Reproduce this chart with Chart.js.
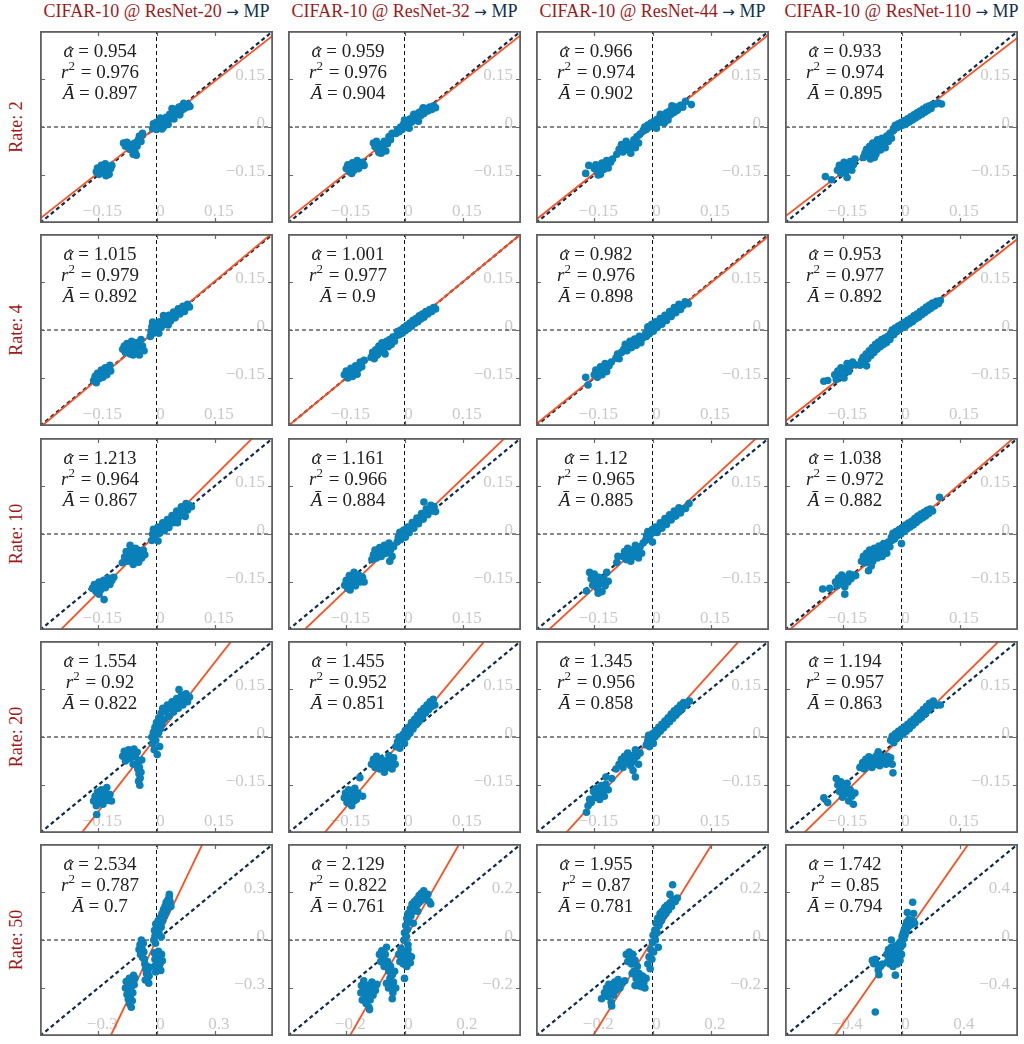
<!DOCTYPE html>
<html>
<head>
<meta charset="utf-8">
<script src="https://cdn.jsdelivr.net/npm/chart.js@4"></script>
<style>
  body { margin: 0; background: #fff; }
  #wrap { position: relative; width: 1024px; height: 1044px; background: #fff; overflow: hidden; }
  canvas { position: absolute; }
  .title { position: absolute; top: 0; width: 260px; text-align: center; font: 18px "Liberation Serif", serif; color: rgb(160,25,25); white-space: nowrap; line-height: 22px; }
  .title span { color: rgb(18,48,82); }
  .title b { font: 15px "DejaVu Sans", sans-serif; font-weight: normal; color: rgb(18,48,82); }
  .rate { position: absolute; left: 16px; width: 0; height: 0; }
  .rate div { position: absolute; transform: translate(-50%, -50%) rotate(-90deg); font: 18px "Liberation Serif", serif; color: rgb(160,25,25); white-space: nowrap; }
</style>
</head>
<body>
<div id="wrap"></div>
<script>
// rows = compression rate, columns = model
var rates = [2, 4, 10, 20, 50];
var models = ["ResNet-20", "ResNet-32", "ResNet-44", "ResNet-110"];

var alphaHat = [
  [0.954, 0.959, 0.966, 0.933],
  [1.015, 1.001, 0.982, 0.953],
  [1.213, 1.161, 1.12, 1.038],
  [1.554, 1.455, 1.345, 1.194],
  [2.534, 2.129, 1.955, 1.742]
];
var rSquared = [
  [0.976, 0.976, 0.974, 0.974],
  [0.979, 0.977, 0.976, 0.977],
  [0.964, 0.966, 0.965, 0.972],
  [0.92, 0.952, 0.956, 0.957],
  [0.787, 0.822, 0.87, 0.85]
];
var aBar = [
  [0.897, 0.904, 0.902, 0.895],
  [0.892, 0.9, 0.898, 0.892],
  [0.867, 0.884, 0.885, 0.882],
  [0.822, 0.851, 0.858, 0.863],
  [0.7, 0.761, 0.781, 0.794]
];

// axis limits and tick labels
var axisMax = [
  [0.3, 0.3, 0.3, 0.3],
  [0.3, 0.3, 0.3, 0.3],
  [0.3, 0.3, 0.3, 0.3],
  [0.3, 0.3, 0.3, 0.3],
  [0.6, 0.4, 0.4, 0.8]
];
var tickStd = [-0.15, 0, 0.15];
var tickRate50 = [[-0.3, 0, 0.3], [-0.2, 0, 0.2], [-0.2, 0, 0.2], [-0.4, 0, 0.4]];

// scatter points [x, y]
var r2_res20 = [[-0.155,-0.14],[-0.152,-0.128],[-0.148,-0.148],[-0.145,-0.135],[-0.142,-0.12],[-0.138,-0.142],[-0.135,-0.13],[-0.132,-0.115],[-0.128,-0.138],[-0.125,-0.125],[-0.122,-0.148],[-0.118,-0.13],[-0.115,-0.12],[-0.13,-0.152],
  [-0.085,-0.05],[-0.08,-0.06],[-0.076,-0.048],[-0.072,-0.058],[-0.068,-0.07],[-0.064,-0.055],[-0.06,-0.065],[-0.056,-0.05],[-0.055,-0.08],[-0.052,-0.088],[-0.05,-0.06],[-0.047,-0.04],[-0.044,-0.028],[-0.04,-0.045],[-0.036,-0.02],[-0.06,-0.085],
  [-0.01,-0.005],[-0.008,0.01],[-0.004,0.002],[0,0.015],[0.004,0.006],[0.008,0.02],[0.012,0.01],[0.016,0.024],[0.02,0.014],[0.025,0.03],[0.03,0.02],[0.034,0.04],[0.038,0.03],[0.042,0.05],[0.046,0.038],[0.05,0.055],[0.054,0.045],[0.058,0.062],[0.062,0.05],[0.066,0.066],[0.07,0.056],[0.074,0.07],[0.078,0.062],[0.082,0.07],[0.086,0.064],[0.03,0.008],[0.045,0.025],
  [0,-0.008],[0.01,0.028],[0.018,0.0],[0.04,0.058],[0.06,0.038],[0.07,0.074],[0.014,-0.006]];
var r2_res32 = [[-0.15,-0.13],[-0.146,-0.118],[-0.142,-0.14],[-0.138,-0.125],[-0.134,-0.112],[-0.13,-0.135],[-0.126,-0.12],[-0.122,-0.105],[-0.118,-0.13],[-0.114,-0.115],[-0.108,-0.11],[-0.104,-0.12],[-0.136,-0.145],
  [-0.08,-0.05],[-0.076,-0.062],[-0.072,-0.045],[-0.068,-0.07],[-0.064,-0.055],[-0.06,-0.082],[-0.056,-0.06],[-0.052,-0.045],[-0.048,-0.075],[-0.044,-0.052],[-0.04,-0.03],[-0.036,-0.04],[-0.032,-0.02],[-0.066,-0.08],
  [-0.022,-0.02],[-0.018,-0.008],[-0.014,-0.015],[-0.01,0],[-0.006,-0.008],[-0.002,0.01],[0.002,0],[0.006,0.018],[0.01,0.008],[0.014,0.025],[0.018,0.015],[0.022,0.032],[0.026,0.022],[0.03,0.04],[0.034,0.03],[0.038,0.046],[0.042,0.036],[0.046,0.052],[0.05,0.042],[0.055,0.058],[0.06,0.05],[0.065,0.062],[0.07,0.055],[0.075,0.066],[0.08,0.06],
  [0.0,0.022],[0.012,-0.004],[0.024,0.04],[0.036,0.018],[0.048,0.06]];
var r2_res44 = [[-0.172,-0.145],[-0.164,-0.12],[-0.15,-0.13],[-0.146,-0.118],[-0.142,-0.14],[-0.138,-0.125],[-0.134,-0.148],[-0.13,-0.113],[-0.126,-0.133],[-0.122,-0.12],[-0.118,-0.105],[-0.114,-0.128],[-0.108,-0.11],[-0.103,-0.1],[-0.14,-0.15],
  [-0.092,-0.085],[-0.086,-0.07],[-0.08,-0.055],[-0.076,-0.078],[-0.072,-0.062],[-0.068,-0.045],[-0.064,-0.07],[-0.06,-0.055],[-0.056,-0.082],[-0.052,-0.06],[-0.048,-0.04],[-0.044,-0.065],[-0.04,-0.03],[-0.036,-0.05],[-0.032,-0.022],
  [-0.024,-0.01],[-0.02,0],[-0.016,-0.008],[-0.012,0.006],[-0.008,0],[-0.004,0.012],[0,0.004],[0.004,0.018],[0.008,0.008],[0.012,0.024],[0.016,0.014],[0.02,0.03],[0.024,0.02],[0.028,0.036],[0.032,0.026],[0.036,0.044],[0.04,0.032],[0.044,0.05],[0.048,0.04],[0.052,0.056],[0.056,0.046],[0.06,0.062],[0.064,0.052],[0.068,0.06],[0.072,0.068],[0.078,0.062],[0.085,0.08],[0.1,0.07],[0.03,0.012],
  [0.01,-0.004],[0.02,0.04],[0.04,0.022],[0.05,0.066]];
var r2_res110 = [[-0.196,-0.155],[-0.18,-0.165],[-0.165,-0.135],[-0.16,-0.12],[-0.156,-0.145],[-0.152,-0.128],[-0.148,-0.11],[-0.144,-0.14],[-0.14,-0.158],[-0.136,-0.125],[-0.132,-0.108],[-0.128,-0.135],[-0.124,-0.118],[-0.12,-0.1],
  [-0.098,-0.095],[-0.094,-0.082],[-0.09,-0.07],[-0.086,-0.088],[-0.082,-0.06],[-0.078,-0.075],[-0.074,-0.05],[-0.07,-0.065],[-0.066,-0.085],[-0.062,-0.04],[-0.058,-0.058],[-0.054,-0.072],[-0.05,-0.035],[-0.046,-0.05],[-0.042,-0.065],[-0.038,-0.028],[-0.034,-0.045],[-0.03,-0.02],[-0.026,-0.035],[-0.022,-0.012],[-0.07,-0.095],[-0.08,-0.1],
  [-0.02,-0.005],[-0.016,0.005],[-0.012,-0.002],[-0.008,0.01],[-0.004,0.002],[0,0.015],[0.004,0.006],[0.008,0.02],[0.012,0.01],[0.016,0.026],[0.02,0.016],[0.024,0.032],[0.028,0.022],[0.032,0.038],[0.036,0.028],[0.04,0.044],[0.044,0.034],[0.048,0.05],[0.052,0.04],[0.056,0.056],[0.06,0.046],[0.064,0.062],[0.068,0.052],[0.072,0.066],[0.076,0.058],[0.08,0.07],[0.088,0.072],[0.095,0.075],[0.103,0.072]];

var r4_res20 = [[-0.162,-0.158],[-0.158,-0.145],[-0.155,-0.165],[-0.152,-0.135],[-0.148,-0.152],[-0.145,-0.14],[-0.142,-0.125],[-0.138,-0.148],[-0.135,-0.132],[-0.132,-0.118],[-0.128,-0.14],[-0.125,-0.122],[-0.12,-0.11],[-0.118,-0.128],
  [-0.087,-0.06],[-0.083,-0.05],[-0.08,-0.07],[-0.076,-0.042],[-0.072,-0.06],[-0.068,-0.075],[-0.064,-0.035],[-0.06,-0.05],[-0.056,-0.068],[-0.052,-0.04],[-0.048,-0.058],[-0.044,-0.078],[-0.04,-0.03],[-0.036,-0.05],[-0.032,-0.065],[-0.06,-0.078],
  [-0.016,-0.02],[-0.014,-0.005],[-0.012,0.01],[-0.008,-0.01],[-0.006,0.005],[-0.002,0.02],[0,-0.002],[0.004,0.012],[0.008,0.026],[0.012,0.008],[0.016,0.022],[0.02,0.036],[0.024,0.018],[0.028,0.032],[0.032,0.046],[0.036,0.028],[0.04,0.042],[0.044,0.056],[0.048,0.038],[0.052,0.052],[0.056,0.066],[0.06,0.05],[0.064,0.062],[0.068,0.074],[0.072,0.058],[0.076,0.07],[0.08,0.08],[0.085,0.072],
  [-0.01,0.025],[0.006,-0.01],[0.018,0.045],[0.03,0.016]];
var r4_res32 = [[-0.155,-0.14],[-0.15,-0.128],[-0.146,-0.15],[-0.142,-0.135],[-0.138,-0.12],[-0.134,-0.145],[-0.13,-0.13],[-0.126,-0.112],[-0.122,-0.138],[-0.118,-0.12],[-0.114,-0.1],[-0.11,-0.115],[-0.104,-0.095],
  [-0.086,-0.085],[-0.082,-0.07],[-0.078,-0.09],[-0.074,-0.062],[-0.07,-0.078],[-0.066,-0.05],[-0.062,-0.068],[-0.058,-0.04],[-0.054,-0.06],[-0.05,-0.075],[-0.046,-0.035],[-0.042,-0.052],[-0.038,-0.03],[-0.034,-0.045],[-0.03,-0.022],[-0.026,-0.035],
  [-0.021,-0.018],[-0.018,-0.005],[-0.014,-0.015],[-0.01,0],[-0.006,-0.01],[-0.002,0.008],[0.002,-0.002],[0.006,0.015],[0.01,0.005],[0.014,0.022],[0.018,0.012],[0.022,0.03],[0.026,0.02],[0.03,0.036],[0.034,0.026],[0.038,0.044],[0.042,0.034],[0.046,0.05],[0.05,0.04],[0.055,0.058],[0.06,0.05],[0.065,0.064],[0.07,0.058],[0.075,0.07],[0.08,0.066]];
var r4_res44 = [[-0.172,-0.148],[-0.166,-0.172],[-0.15,-0.14],[-0.146,-0.125],[-0.142,-0.148],[-0.138,-0.132],[-0.134,-0.115],[-0.13,-0.14],[-0.126,-0.122],[-0.122,-0.105],[-0.118,-0.13],[-0.112,-0.112],[-0.106,-0.1],
  [-0.094,-0.088],[-0.09,-0.075],[-0.086,-0.09],[-0.08,-0.07],[-0.074,-0.06],[-0.07,-0.045],[-0.066,-0.065],[-0.062,-0.05],[-0.058,-0.035],[-0.054,-0.055],[-0.05,-0.04],[-0.046,-0.028],[-0.042,-0.048],[-0.038,-0.035],[-0.034,-0.02],[-0.03,-0.04],[-0.025,-0.025],[-0.018,-0.012],
  [-0.016,-0.02],[-0.014,-0.005],[-0.012,0.01],[-0.008,-0.012],[-0.005,0.003],[-0.002,0.018],[0.002,-0.004],[0.005,0.012],[0.008,0.026],[0.012,0.008],[0.016,0.022],[0.02,0.036],[0.024,0.018],[0.028,0.032],[0.032,0.046],[0.036,0.03],[0.04,0.044],[0.044,0.058],[0.048,0.042],[0.052,0.056],[0.056,0.07],[0.06,0.054],[0.064,0.068],[0.068,0.08],[0.072,0.064],[0.078,0.076],[0.084,0.088],[0.092,0.082]];
var r4_res110 = [[-0.2,-0.16],[-0.19,-0.158],[-0.172,-0.14],[-0.168,-0.155],[-0.164,-0.128],[-0.16,-0.145],[-0.156,-0.118],[-0.152,-0.135],[-0.148,-0.15],[-0.144,-0.12],[-0.14,-0.105],[-0.136,-0.13],[-0.132,-0.112],[-0.126,-0.1],[-0.12,-0.108],
  [-0.107,-0.11],[-0.103,-0.096],[-0.099,-0.085],[-0.095,-0.1],[-0.091,-0.075],[-0.087,-0.09],[-0.083,-0.065],[-0.079,-0.08],[-0.075,-0.055],[-0.071,-0.07],[-0.067,-0.045],[-0.063,-0.06],[-0.059,-0.038],[-0.055,-0.052],[-0.051,-0.03],[-0.047,-0.045],[-0.043,-0.025],[-0.039,-0.04],[-0.035,-0.02],[-0.03,-0.03],[-0.025,-0.015],[-0.09,-0.112],
  [-0.028,-0.01],[-0.024,0],[-0.02,-0.015],[-0.016,0.006],[-0.012,-0.005],[-0.008,0.012],[-0.004,0.002],[0,0.018],[0.004,0.008],[0.008,0.024],[0.012,0.014],[0.016,0.03],[0.02,0.02],[0.024,0.036],[0.028,0.026],[0.032,0.044],[0.036,0.034],[0.04,0.05],[0.044,0.04],[0.048,0.058],[0.052,0.048],[0.056,0.064],[0.06,0.055],[0.064,0.072],[0.068,0.062],[0.072,0.078],[0.076,0.068],[0.08,0.084],[0.085,0.075],[0.09,0.09],[0.095,0.082],[0.1,0.092]];

var r10_res20 = [[-0.165,-0.17],[-0.16,-0.158],[-0.156,-0.18],[-0.152,-0.165],[-0.148,-0.15],[-0.144,-0.175],[-0.14,-0.16],[-0.136,-0.145],[-0.132,-0.168],[-0.128,-0.152],[-0.124,-0.138],[-0.12,-0.158],[-0.115,-0.145],[-0.11,-0.135],[-0.135,-0.205],[-0.148,-0.188],
  [-0.088,-0.09],[-0.082,-0.072],[-0.078,-0.055],[-0.074,-0.085],[-0.07,-0.065],[-0.068,-0.035],[-0.066,-0.05],[-0.062,-0.078],[-0.058,-0.06],[-0.054,-0.045],[-0.05,-0.07],[-0.046,-0.088],[-0.042,-0.055],[-0.038,-0.075],[-0.034,-0.05],[-0.03,-0.065],[-0.06,-0.095],
  [-0.012,-0.02],[-0.01,0],[-0.008,0.015],[-0.004,-0.01],[0,0.008],[0.004,0.022],[0.004,-0.022],[0.008,0.002],[0.012,0.018],[0.016,0.035],[0.02,0.01],[0.024,0.028],[0.028,0.045],[0.032,0.02],[0.036,0.04],[0.04,0.058],[0.044,0.035],[0.048,0.055],[0.052,0.072],[0.056,0.05],[0.06,0.068],[0.064,0.085],[0.068,0.065],[0.072,0.08],[0.076,0.095],[0.08,0.075],[0.085,0.09],[0.09,0.085],[0.074,0.055],[0.054,0.035]];
var r10_res32 = [[-0.154,-0.16],[-0.15,-0.145],[-0.146,-0.17],[-0.142,-0.13],[-0.138,-0.155],[-0.134,-0.14],[-0.13,-0.12],[-0.126,-0.162],[-0.122,-0.145],[-0.118,-0.128],[-0.114,-0.15],[-0.108,-0.135],[-0.104,-0.15],[-0.14,-0.175],
  [-0.084,-0.08],[-0.08,-0.065],[-0.076,-0.05],[-0.072,-0.075],[-0.068,-0.06],[-0.064,-0.042],[-0.06,-0.07],[-0.056,-0.055],[-0.052,-0.035],[-0.048,-0.06],[-0.044,-0.045],[-0.04,-0.028],[-0.036,-0.05],[-0.032,-0.07],[-0.038,-0.085],[-0.028,-0.04],
  [-0.019,-0.025],[-0.016,-0.01],[-0.012,0.005],[-0.01,-0.018],[-0.006,-0.002],[-0.002,0.012],[0.002,-0.01],[0.004,0.006],[0.008,0.022],[0.012,0.004],[0.016,0.02],[0.02,0.036],[0.024,0.018],[0.028,0.034],[0.032,0.05],[0.036,0.032],[0.04,0.048],[0.044,0.064],[0.048,0.046],[0.052,0.062],[0.056,0.078],[0.06,0.06],[0.064,0.075],[0.068,0.09],[0.072,0.072],[0.076,0.086],[0.08,0.07],[0.05,0.1]];
var r10_res44 = [[-0.17,-0.178],[-0.162,-0.12],[-0.158,-0.14],[-0.154,-0.16],[-0.15,-0.125],[-0.146,-0.148],[-0.142,-0.17],[-0.138,-0.135],[-0.134,-0.155],[-0.13,-0.18],[-0.126,-0.14],[-0.122,-0.162],[-0.118,-0.12],[-0.114,-0.148],[-0.14,-0.185],[-0.089,-0.07],[-0.092,-0.089],
  [-0.076,-0.07],[-0.072,-0.055],[-0.068,-0.08],[-0.064,-0.045],[-0.06,-0.065],[-0.056,-0.085],[-0.052,-0.05],[-0.048,-0.07],[-0.044,-0.035],[-0.04,-0.055],[-0.036,-0.075],[-0.032,-0.04],[-0.028,-0.06],[-0.024,-0.028],
  [-0.018,-0.02],[-0.015,-0.005],[-0.012,0.008],[-0.008,-0.015],[-0.004,0],[0,0.015],[0,-0.025],[0.004,0.006],[0.008,0.022],[0.012,0.005],[0.016,0.02],[0.02,0.035],[0.024,0.018],[0.028,0.032],[0.032,0.048],[0.036,0.03],[0.04,0.045],[0.044,0.06],[0.048,0.044],[0.052,0.058],[0.056,0.072],[0.06,0.056],[0.064,0.07],[0.068,0.082],[0.072,0.066],[0.078,0.078],[0.085,0.08],[0.094,0.095]];
var r10_res110 = [[-0.203,-0.172],[-0.185,-0.17],[-0.146,-0.188],[-0.17,-0.15],[-0.166,-0.162],[-0.162,-0.138],[-0.158,-0.155],[-0.154,-0.128],[-0.15,-0.145],[-0.146,-0.165],[-0.142,-0.135],[-0.138,-0.15],[-0.134,-0.125],[-0.13,-0.14],[-0.124,-0.128],[-0.118,-0.13],
  [-0.103,-0.085],[-0.098,-0.07],[-0.094,-0.09],[-0.09,-0.06],[-0.086,-0.078],[-0.085,-0.115],[-0.078,-0.1],[-0.082,-0.05],[-0.078,-0.068],[-0.074,-0.085],[-0.07,-0.045],[-0.066,-0.06],[-0.062,-0.075],[-0.058,-0.038],[-0.054,-0.055],[-0.05,-0.07],[-0.046,-0.03],[-0.042,-0.045],[-0.038,-0.06],[-0.034,-0.025],[-0.03,-0.04],[-0.025,-0.02],[-0.018,-0.015],
  [-0.026,-0.01],[-0.022,0.002],[-0.018,-0.015],[-0.014,0.008],[-0.01,-0.005],[-0.006,0.014],[-0.002,0],[0.002,0.02],[0.006,0.008],[0.01,0.028],[0.014,0.016],[0.018,0.034],[0.022,0.022],[0.026,0.04],[0.03,0.028],[0.034,0.048],[0.038,0.036],[0.042,0.056],[0.046,0.044],[0.05,0.062],[0.054,0.05],[0.058,0.068],[0.062,0.056],[0.066,0.074],[0.07,0.064],[0.074,0.078],[0.08,0.072],[0.098,0.115],[0,-0.03]];

var r20_res20 = [[-0.162,-0.2],[-0.158,-0.185],[-0.155,-0.215],[-0.152,-0.172],[-0.148,-0.2],[-0.145,-0.185],[-0.142,-0.165],[-0.138,-0.21],[-0.135,-0.192],[-0.132,-0.175],[-0.128,-0.158],[-0.125,-0.198],[-0.12,-0.18],[-0.116,-0.2],[-0.154,-0.242],
  [-0.087,-0.06],[-0.083,-0.045],[-0.08,-0.075],[-0.076,-0.055],[-0.072,-0.04],[-0.068,-0.068],[-0.064,-0.05],[-0.06,-0.085],[-0.058,-0.038],[-0.054,-0.062],[-0.05,-0.048],[-0.05,-0.085],[-0.046,-0.075],[-0.048,-0.1],[-0.044,-0.095],[-0.045,-0.115],[-0.042,-0.128],[-0.04,-0.11],[-0.046,-0.138],[-0.043,-0.151],[-0.038,-0.072],
  [-0.012,0],[-0.01,-0.02],[-0.008,0.015],[-0.006,-0.04],[-0.004,0.03],[-0.002,-0.01],[0,0.045],[0.002,-0.055],[0.004,0.01],[0.006,0.06],[0.008,-0.03],[0.01,0.025],[0.012,0.075],[0.014,0.04],[0.016,0.09],[0.02,0.055],[0.024,0.08],[0.028,0.1],[0.032,0.065],[0.036,0.09],[0.04,0.11],[0.044,0.078],[0.048,0.1],[0.052,0.12],[0.056,0.09],[0.06,0.11],[0.064,0.13],[0.068,0.1],[0.072,0.12],[0.076,0.135],[0.08,0.11],[0.085,0.125],[0.058,0.148]];
var r20_res32 = [[-0.155,-0.19],[-0.152,-0.175],[-0.148,-0.205],[-0.144,-0.165],[-0.14,-0.19],[-0.136,-0.215],[-0.132,-0.178],[-0.128,-0.16],[-0.124,-0.195],[-0.12,-0.175],[-0.115,-0.127],[-0.108,-0.185],[-0.13,-0.2],
  [-0.085,-0.085],[-0.08,-0.07],[-0.076,-0.095],[-0.072,-0.06],[-0.068,-0.08],[-0.064,-0.1],[-0.06,-0.068],[-0.056,-0.088],[-0.052,-0.11],[-0.048,-0.075],[-0.044,-0.095],[-0.04,-0.058],[-0.036,-0.08],[-0.032,-0.1],[-0.028,-0.065],[-0.024,-0.085],
  [-0.022,-0.03],[-0.018,-0.015],[-0.014,0],[-0.012,-0.035],[-0.008,-0.012],[-0.004,0.008],[0,-0.02],[0.002,0.02],[0.006,0],[0.01,0.03],[0.014,0.012],[0.018,0.045],[0.022,0.025],[0.026,0.055],[0.03,0.038],[0.034,0.068],[0.038,0.05],[0.042,0.08],[0.046,0.062],[0.05,0.09],[0.054,0.075],[0.058,0.1],[0.062,0.085],[0.066,0.11],[0.07,0.095],[0.074,0.118],[0.078,0.1]];
var r20_res44 = [[-0.17,-0.235],[-0.166,-0.215],[-0.162,-0.195],[-0.158,-0.205],[-0.152,-0.17],[-0.148,-0.188],[-0.144,-0.16],[-0.14,-0.178],[-0.136,-0.195],[-0.132,-0.152],[-0.128,-0.17],[-0.124,-0.185],[-0.12,-0.148],[-0.114,-0.165],[-0.12,-0.125],[-0.105,-0.13],
  [-0.094,-0.1],[-0.086,-0.085],[-0.08,-0.07],[-0.076,-0.095],[-0.072,-0.06],[-0.068,-0.08],[-0.064,-0.05],[-0.06,-0.07],[-0.056,-0.09],[-0.052,-0.058],[-0.048,-0.075],[-0.044,-0.04],[-0.04,-0.06],[-0.036,-0.085],[-0.032,-0.05],[-0.044,-0.125],[-0.05,-0.105],
  [-0.016,-0.025],[-0.012,-0.01],[-0.01,0.005],[-0.008,-0.03],[-0.004,-0.012],[0,0.01],[0.002,-0.02],[0.006,0],[0.008,0.02],[0.012,0.008],[0.016,0.03],[0.02,0.018],[0.024,0.04],[0.028,0.028],[0.032,0.05],[0.036,0.038],[0.04,0.06],[0.044,0.048],[0.048,0.072],[0.052,0.058],[0.056,0.082],[0.06,0.068],[0.064,0.09],[0.068,0.078],[0.072,0.1],[0.076,0.088],[0.08,0.108],[0.086,0.1],[0.095,0.112]];
var r20_res110 = [[-0.2,-0.19],[-0.19,-0.205],[-0.168,-0.13],[-0.164,-0.15],[-0.16,-0.17],[-0.156,-0.14],[-0.152,-0.188],[-0.148,-0.16],[-0.144,-0.178],[-0.14,-0.145],[-0.136,-0.2],[-0.132,-0.165],[-0.128,-0.185],[-0.124,-0.21],[-0.12,-0.175],
  [-0.107,-0.095],[-0.1,-0.08],[-0.096,-0.1],[-0.092,-0.07],[-0.088,-0.088],[-0.084,-0.062],[-0.08,-0.08],[-0.076,-0.095],[-0.072,-0.066],[-0.068,-0.085],[-0.064,-0.058],[-0.06,-0.075],[-0.056,-0.09],[-0.052,-0.06],[-0.048,-0.078],[-0.044,-0.066],[-0.04,-0.085],[-0.036,-0.06],[-0.032,-0.075],[-0.028,-0.065],[-0.024,-0.085],[-0.022,-0.112],[-0.06,-0.046],
  [-0.028,-0.01],[-0.024,0.002],[-0.02,-0.018],[-0.016,0.01],[-0.012,-0.005],[-0.008,0.018],[-0.004,0.002],[0,0.025],[0.004,0.01],[0.008,0.032],[0.012,0.018],[0.016,0.04],[0.02,0.026],[0.024,0.048],[0.028,0.036],[0.032,0.056],[0.036,0.045],[0.04,0.066],[0.044,0.054],[0.048,0.076],[0.052,0.062],[0.056,0.086],[0.06,0.072],[0.064,0.095],[0.068,0.082],[0.072,0.105],[0.076,0.092],[0.082,0.112],[0.09,0.1],[0.1,0.1]];

var r50_res20 = [[-0.16,-0.3],[-0.156,-0.26],[-0.152,-0.34],[-0.148,-0.28],[-0.145,-0.37],[-0.142,-0.32],[-0.14,-0.24],[-0.138,-0.4],[-0.135,-0.35],[-0.132,-0.3],[-0.128,-0.26],[-0.125,-0.38],[-0.122,-0.33],[-0.118,-0.22],[-0.115,-0.28],[-0.112,-0.24],[-0.13,-0.42],
  [-0.09,-0.06],[-0.085,-0.03],[-0.082,-0.09],[-0.078,0],[-0.075,-0.05],[-0.072,-0.11],[-0.068,-0.02],[-0.065,-0.075],[-0.062,-0.12],[-0.06,-0.15],[-0.056,-0.18],[-0.052,-0.21],[-0.05,-0.165],[-0.046,-0.24],[-0.044,-0.195],[-0.04,-0.27],[-0.038,-0.225],[-0.058,-0.25],[-0.035,-0.17],
  [-0.012,-0.08],[-0.008,-0.12],[-0.006,-0.16],[-0.004,-0.2],[0,-0.1],[0.004,-0.14],[0.008,-0.18],[0.01,-0.07],[0.014,-0.11],[0.018,-0.15],[0.022,-0.19],[0.026,-0.09],[0.03,-0.13],
  [-0.014,0],[-0.01,0.06],[-0.008,0.025],[-0.004,0.1],[0,0.04],[0.004,0.075],[0.008,0.12],[0.012,0.05],[0.016,0.095],[0.02,0.14],[0.024,0.08],[0.028,0.165],[0.032,0.12],[0.036,0.19],[0.04,0.15],[0.044,0.21],[0.048,0.17],[0.05,0.235],[0.054,0.19],[0.058,0.25],[0.062,0.22],[0.066,0.27],[0.07,0.24],[0.066,0.285],[0.025,0.02],[-0.005,-0.02],[0.074,0.21]];
var r50_res32 = [[-0.15,-0.22],[-0.148,-0.19],[-0.145,-0.25],[-0.14,-0.17],[-0.138,-0.205],[-0.135,-0.235],[-0.132,-0.265],[-0.128,-0.19],[-0.125,-0.22],[-0.122,-0.28],[-0.118,-0.25],[-0.115,-0.2],[-0.112,-0.175],[-0.108,-0.23],[-0.104,-0.19],[-0.1,-0.21],[-0.095,-0.185],[-0.12,-0.29],
  [-0.086,-0.06],[-0.082,-0.09],[-0.078,-0.045],[-0.074,-0.075],[-0.07,-0.11],[-0.066,-0.06],[-0.062,-0.03],[-0.058,-0.09],[-0.054,-0.13],[-0.05,-0.16],[-0.048,-0.11],[-0.045,-0.19],[-0.042,-0.145],[-0.04,-0.22],[-0.038,-0.175],[-0.034,-0.13],[-0.03,-0.2],[-0.055,-0.2],[-0.062,-0.18],[-0.042,-0.245],
  [-0.02,-0.06],[-0.016,-0.09],[-0.012,-0.035],[-0.008,-0.07],[-0.004,-0.1],[0,-0.05],[0.004,-0.08],[0.008,-0.11],[0.012,-0.04],[0.016,-0.065],[0.02,-0.095],[0.024,-0.07],[0,-0.16],[0.012,-0.02],
  [-0.002,0],[0,0.03],[0.004,0.06],[0.006,0.015],[0.008,0.09],[0.01,0.045],[0.012,0.11],[0.016,0.075],[0.02,0.13],[0.022,0.1],[0.026,0.15],[0.03,0.12],[0.034,0.16],[0.038,0.135],[0.042,0.17],[0.046,0.15],[0.05,0.185],[0.054,0.16],[0.058,0.195],[0.062,0.17],[0.066,0.205],[0.07,0.18],[0.075,0.17],[0.08,0.19],[0.085,0.16],[0.09,0.15],[0.03,0.07],[0.045,0.12]];
var r50_res44 = [[-0.175,-0.245],[-0.165,-0.22],[-0.158,-0.2],[-0.154,-0.235],[-0.15,-0.185],[-0.146,-0.215],[-0.142,-0.26],[-0.138,-0.2],[-0.134,-0.23],[-0.13,-0.175],[-0.126,-0.21],[-0.122,-0.19],[-0.118,-0.165],[-0.112,-0.2],[-0.14,-0.275],[-0.105,-0.18],[-0.095,-0.17],
  [-0.09,-0.06],[-0.085,-0.09],[-0.08,-0.05],[-0.076,-0.075],[-0.072,-0.1],[-0.068,-0.06],[-0.064,-0.13],[-0.06,-0.085],[-0.056,-0.16],[-0.052,-0.11],[-0.05,-0.19],[-0.046,-0.14],[-0.042,-0.17],[-0.038,-0.195],[-0.034,-0.15],[-0.03,-0.18],[-0.026,-0.2],[-0.022,-0.16],[-0.06,-0.19],[-0.07,-0.14],
  [-0.016,-0.1],[-0.012,-0.07],[-0.008,-0.12],[-0.006,-0.04],[-0.002,-0.08],[0,-0.01],[0.002,0.02],[0.004,-0.05],[0.008,0.04],[0.01,0],[0.012,0.07],[0.016,0.03],[0.018,0.09],[0.022,0.06],[0.026,0.11],[0.03,0.08],[0.034,0.12],[0.038,0.1],[0.042,0.135],[0.046,0.11],[0.05,0.145],[0.055,0.125],[0.06,0.155],[0.065,0.14],[0.07,0.17],[0.078,0.16],[0.085,0.175],[0.069,0.23],[0.06,0.19],[0.02,-0.03]];
var r50_res110 = [[-0.1,-0.12],[-0.095,-0.18],[-0.09,-0.08],[-0.085,-0.14],[-0.08,-0.2],[-0.075,-0.1],[-0.07,-0.06],[-0.066,-0.16],[-0.062,-0.12],[-0.058,-0.22],[-0.054,-0.08],[-0.05,-0.14],[-0.046,-0.18],[-0.042,-0.05],[-0.038,-0.11],[-0.034,-0.15],[-0.03,-0.2],[-0.026,-0.08],[-0.022,-0.13],[-0.018,-0.03],[-0.014,-0.1],[-0.01,-0.17],[-0.006,-0.06],[-0.002,-0.01],[0,-0.12],[0.004,0.03],[0.008,-0.04],[0.012,0.06],[0.016,0.01],[0.02,0.09],[0.024,0.04],[0.028,0.12],[0.032,0.07],[0.036,0.15],[0.04,0.1],[0.044,0.13],[0.05,0.17],[0.056,0.12],[0.062,0.15],[0.07,0.13],[0.08,0.16],[0.09,0.14],[-0.07,0],
  [-0.2,-0.17],[-0.18,-0.16],[-0.17,-0.2],[-0.16,-0.25],[-0.155,-0.29],[-0.145,-0.22],[-0.13,-0.2],[-0.19,-0.198],
  [0.077,0.315],[0.04,0.229],[0.083,0.22],[-0.18,-0.6],[-0.042,-0.293]];

var points = [
  [r2_res20, r2_res32, r2_res44, r2_res110],
  [r4_res20, r4_res32, r4_res44, r4_res110],
  [r10_res20, r10_res32, r10_res44, r10_res110],
  [r20_res20, r20_res32, r20_res44, r20_res110],
  [r50_res20, r50_res32, r50_res44, r50_res110]
];

var BLUE = "#0a80b9";
var ORANGE = "#ff4f1f";
var NAVY = "#0e2b4b";
var SERIF = '"Liberation Serif", "Times New Roman", serif';

var colLeft = [36, 284, 532, 781];
var rowTop = [27, 230, 434, 637, 840];
var W = 241, H = 200;

function fmt(v){
  return v < 0 ? "\u2212" + Math.abs(v) : String(v);
}

// frame, inward ticks, tick labels and the fit summary
var framePlugin = {
  id: "frame",
  beforeDatasetsDraw: function(chart, args, o){
    var ctx = chart.ctx, a = chart.chartArea;
    var sx = chart.scales.x, sy = chart.scales.y;
    ctx.save();
    ctx.font = "17px " + SERIF;
    ctx.fillStyle = "#c9c9c9";
    ctx.textAlign = "right";
    ctx.textBaseline = "alphabetic";
    o.ticks.forEach(function(t){
      ctx.fillText(fmt(t), a.right - 8, sy.getPixelForValue(t) + 1);
    });
    ctx.textAlign = "center";
    o.ticks.forEach(function(t){
      ctx.fillText(fmt(t), sx.getPixelForValue(t) + 4, a.bottom - 7);
    });
    ctx.restore();
  },
  afterDraw: function(chart, args, o){
    var ctx = chart.ctx, a = chart.chartArea;
    var sx = chart.scales.x, sy = chart.scales.y;
    ctx.save();
    ctx.strokeStyle = "#6a6a6a";
    ctx.lineWidth = 1.2;
    ctx.beginPath();
    o.ticks.forEach(function(t){
      var px = Math.round(sx.getPixelForValue(t)) + 0.5;
      var py = Math.round(sy.getPixelForValue(t)) + 0.5;
      ctx.moveTo(px, a.top); ctx.lineTo(px, a.top + 5);
      ctx.moveTo(px, a.bottom); ctx.lineTo(px, a.bottom - 5);
      ctx.moveTo(a.left, py); ctx.lineTo(a.left + 5, py);
      ctx.moveTo(a.right, py); ctx.lineTo(a.right - 5, py);
    });
    ctx.stroke();
    ctx.lineWidth = 1.8;
    ctx.strokeStyle = "#606060";
    ctx.strokeRect(a.left + 0.9, a.top + 0.9, a.right - a.left - 1.8, a.bottom - a.top - 1.8);

    // summary text: [text, style]; h = letter with a hat
    var lines = [
      [["\u03B1", "h"], [" = " + o.alpha, "n"]],
      [["r", "i"], ["2", "s"], [" = " + o.r2, "n"]],
      [["\u0100", "i"], [" = " + o.abar, "n"]]
    ];
    var fonts = { h: "italic 19px " + SERIF, i: "italic 19px " + SERIF, n: "19px " + SERIF, s: "13px " + SERIF };
    var cx = a.left + 60;
    ctx.fillStyle = "#222";
    ctx.textBaseline = "alphabetic";
    lines.forEach(function(parts, k){
      var total = 0;
      parts.forEach(function(p){ ctx.font = fonts[p[1]]; total += ctx.measureText(p[0]).width + (p[1] === "s" ? 1 : 0); });
      var x = cx - total / 2;
      var base = a.top + 26 + k * 21;
      parts.forEach(function(p){
        ctx.font = fonts[p[1]];
        ctx.textAlign = "left";
        var w = ctx.measureText(p[0]).width;
        ctx.fillText(p[0], x, p[1] === "s" ? base - 8 : base);
        if (p[1] === "h") {
          ctx.font = "17px " + SERIF;
          ctx.textAlign = "center";
          ctx.fillText("\u02C6", x + w / 2 + 1.5, base + 1);
        }
        x += w + (p[1] === "s" ? 1 : 0);
      });
    });
    ctx.restore();
  }
};

var wrap = document.getElementById("wrap");

models.forEach(function(m, c){
  var t = document.createElement("div");
  t.className = "title";
  t.style.left = (colLeft[c] + W / 2 - 130) + "px";
  t.innerHTML = "CIFAR-10 @ " + m + " <b>\u2192</b> <span>MP</span>";
  wrap.appendChild(t);
});

rates.forEach(function(rate, r){
  var lab = document.createElement("div");
  lab.className = "rate";
  lab.style.top = (rowTop[r] + H / 2) + "px";
  lab.innerHTML = "<div>Rate: " + rate + "</div>";
  wrap.appendChild(lab);

  models.forEach(function(m, c){
    var R = axisMax[r][c];
    var alpha = alphaHat[r][c];
    var cv = document.createElement("canvas");
    cv.width = W; cv.height = H;
    cv.style.left = colLeft[c] + "px";
    cv.style.top = rowTop[r] + "px";
    wrap.appendChild(cv);

    var lineDs = function(data, color, width, dash, order){
      return { data: data, showLine: true, borderColor: color, borderWidth: width,
               borderDash: dash, pointRadius: 0, fill: false, order: order };
    };

    new Chart(cv, {
      type: "scatter",
      data: {
        datasets: [
          { data: points[r][c].map(function(p){ return { x: p[0], y: p[1] }; }),
            backgroundColor: BLUE, borderWidth: 0, pointRadius: 3.8, order: 0 },
          lineDs([{ x: -R, y: -alpha * R }, { x: R, y: alpha * R }], ORANGE, 1.8, [], 1),
          lineDs([{ x: -R, y: -R }, { x: R, y: R }], NAVY, 2.2, [4, 3], 2),
          lineDs([{ x: 0, y: -R }, { x: 0, y: R }], "#111", 1, [4, 3], 3),
          lineDs([{ x: -R, y: 0 }, { x: R, y: 0 }], "#111", 1, [4, 3], 3)
        ]
      },
      options: {
        responsive: false,
        animation: false,
        events: [],
        layout: { padding: 0 },
        plugins: {
          legend: { display: false },
          tooltip: { enabled: false },
          frame: {
            ticks: r === 4 ? tickRate50[c] : tickStd,
            alpha: alpha, r2: rSquared[r][c], abar: aBar[r][c]
          }
        },
        scales: {
          x: { type: "linear", min: -R, max: R, display: false },
          y: { type: "linear", min: -R, max: R, display: false }
        }
      },
      plugins: [framePlugin]
    });
  });
});
</script>
</body>
</html>
